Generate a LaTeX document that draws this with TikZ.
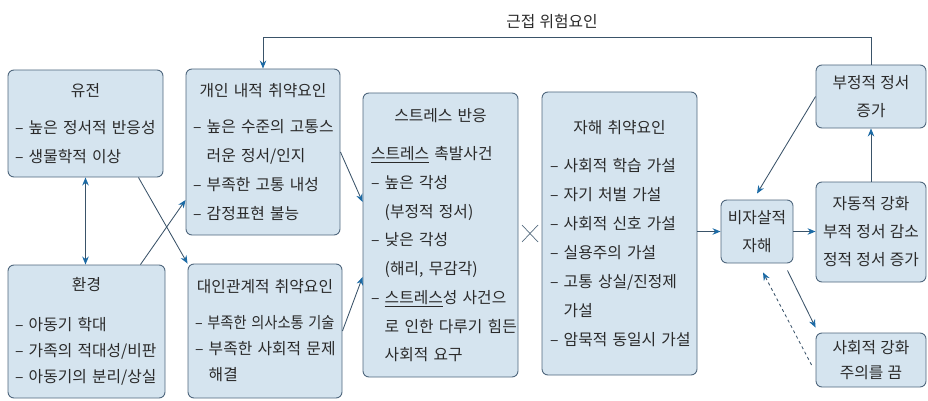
\documentclass[tikz,border=0pt]{standalone}
\usepackage{fontspec}
\setmainfont{Noto Sans CJK KR}[WordSpace=1.2]
\usetikzlibrary{arrows.meta}
\definecolor{boxfill}{HTML}{D5E4EF}
\definecolor{boxline}{HTML}{4F677D}
\definecolor{conn}{HTML}{3A5369}
\definecolor{tipblue}{HTML}{1B6AA5}
\definecolor{txt}{HTML}{2A2A2A}
\newcommand\hangsp{\hphantom{– }}
\newcommand\boxtitle[1]{\makebox[\linewidth][c]{#1}}
\tikzset{
  box/.style={draw=boxline, line width=0.9pt, fill=boxfill, rounded corners=6pt,
    text=txt, inner xsep=7pt, inner ysep=4pt},
  listbox/.style={box, align=left, font=\fontsize{15.8}{29}\selectfont},
  lowbox/.style={box, align=left, font=\fontsize{15.8}{26}\selectfont},
  cbox/.style={box, align=center, font=\fontsize{15.8}{28}\selectfont},
  conn/.style={draw=conn, line width=0.85pt, -{Stealth[length=8pt,width=6.5pt,color=tipblue]}},
  biconn/.style={draw=conn, line width=0.85pt, {Stealth[length=8pt,width=6.5pt,color=tipblue]}-{Stealth[length=8pt,width=6.5pt,color=tipblue]}},
}
\begin{document}
\begin{tikzpicture}[x=1pt,y=-1pt]
\useasboundingbox (0,0) rectangle (928,401);
% boxes
\node[listbox, minimum width=155pt, minimum height=107pt, text width=141pt] (gene) at (85.5,123.5)
  {\boxtitle{유전}\\[8pt]\mbox{– 높은 정서적 반응성}\\\mbox{– 생물학적 이상}};
\node[listbox, minimum width=154pt, minimum height=166pt, text width=140pt] (intra) at (263,152)
  {\boxtitle{개인 내적 취약요인}\\[7pt]\mbox{– 높은 수준의 고통스}\\\mbox{\hangsp 러운 정서/인지}\\\mbox{– 부족한 고통 내성}\\\mbox{– 감정표현 불능}};
\node[lowbox, minimum width=157pt, minimum height=133pt, text width=143pt] (env) at (86.5,331.5)
  {\boxtitle{환경}\\[14pt]\mbox{– 아동기 학대}\\\mbox{– 가족의 적대성/비판}\\\mbox{– 아동기의 분리/상실}};
\node[lowbox, minimum width=154pt, minimum height=134pt, text width=140pt] (inter) at (265,331)
  {\boxtitle{대인관계적 취약요인}\\[10pt]\scalebox{0.9}[1]{– 부족한 의사소통 기술}\\\mbox{– 부족한 사회적 문제}\\\mbox{\hangsp 해결}};
\node[listbox, minimum width=155pt, minimum height=284pt, text width=139pt, font=\fontsize{15.8}{28.7}\selectfont] (stress) at (440.5,235)
  {\boxtitle{스트레스 반응}\\[10pt]\mbox{\underline{스트레스} 촉발사건}\\\mbox{– 높은 각성}\\\mbox{\hangsp(부정적 정서)}\\\mbox{– 낮은 각성}\\\mbox{\hangsp(해리, 무감각)}\\\mbox{– \underline{스트레스}성 사건으}\\\mbox{\hangsp 로 인한 다루기 힘든}\\\mbox{\hangsp 사회적 요구}};
\node[listbox, minimum width=155pt, minimum height=283pt, text width=139pt] (vuln) at (619.5,233.5)
  {\boxtitle{자해 취약요인}\\[9pt]\mbox{– 사회적 학습 가설}\\\mbox{– 자기 처벌 가설}\\\mbox{– 사회적 신호 가설}\\\mbox{– 실용주의 가설}\\\mbox{– 고통 상실/진정제}\\\mbox{\hangsp 가설}\\\mbox{– 암묵적 동일시 가설}};
\node[cbox, minimum width=72pt, minimum height=63pt, inner xsep=1pt] (nssi) at (757,231.5) {비자살적\\자해};
\node[cbox, minimum width=110pt, minimum height=63pt, inner xsep=1pt] (neg) at (871,96.5) {부정적 정서\\증가};
\node[cbox, minimum width=110pt, minimum height=100pt, inner xsep=1pt] (auto) at (871,232) {자동적 강화\\부적 정서 감소\\정적 정서 증가};
\node[cbox, minimum width=110pt, minimum height=54pt, inner xsep=1pt, font=\fontsize{15.8}{25}\selectfont] (social) at (871,360) {사회적 강화\\주의를 끔};
% label
\node[text=txt, font=\fontsize{15.8}{18}\selectfont] (proxlabel) at (552,22) {근접 위험요인};
% cross mark
\draw[conn!85, line width=0.7pt] (522,225) -- (538,242) (538,225) -- (522,242);
% connectors
\coordinate (topline) at (871,37);
\draw[conn] (neg.north) -- (neg.north |- topline) -| (intra.north);
\draw[biconn] (gene.south) -- (gene.south |- env.north);
\draw[conn] ([xshift=-25pt]gene.south east) -- (inter.north west);
\draw[conn] ([xshift=-25pt]env.north east) -- ([yshift=-48pt]intra.west);
\draw[conn] (intra.east) -- ([yshift=33pt]stress.west);
\draw[conn] (inter.east) -- ([yshift=-42pt]stress.west);
\draw[conn] (vuln.east |- nssi.west) -- (nssi.west);
\draw[conn] (nssi.east) -- (nssi.east -| auto.west);
\draw[conn] (neg.west) -- ([yshift=6pt]nssi.north);
\draw[conn] (auto.north) -- (neg.south);
\draw[conn] ([xshift=-6pt,yshift=-7pt]nssi.south east) -- ([yshift=5pt]social.north west);
\draw[conn, dashed] ([xshift=-4pt,yshift=-5pt]social.west) -- ([xshift=6pt,yshift=-9pt]nssi.south);
\end{tikzpicture}
\end{document}
